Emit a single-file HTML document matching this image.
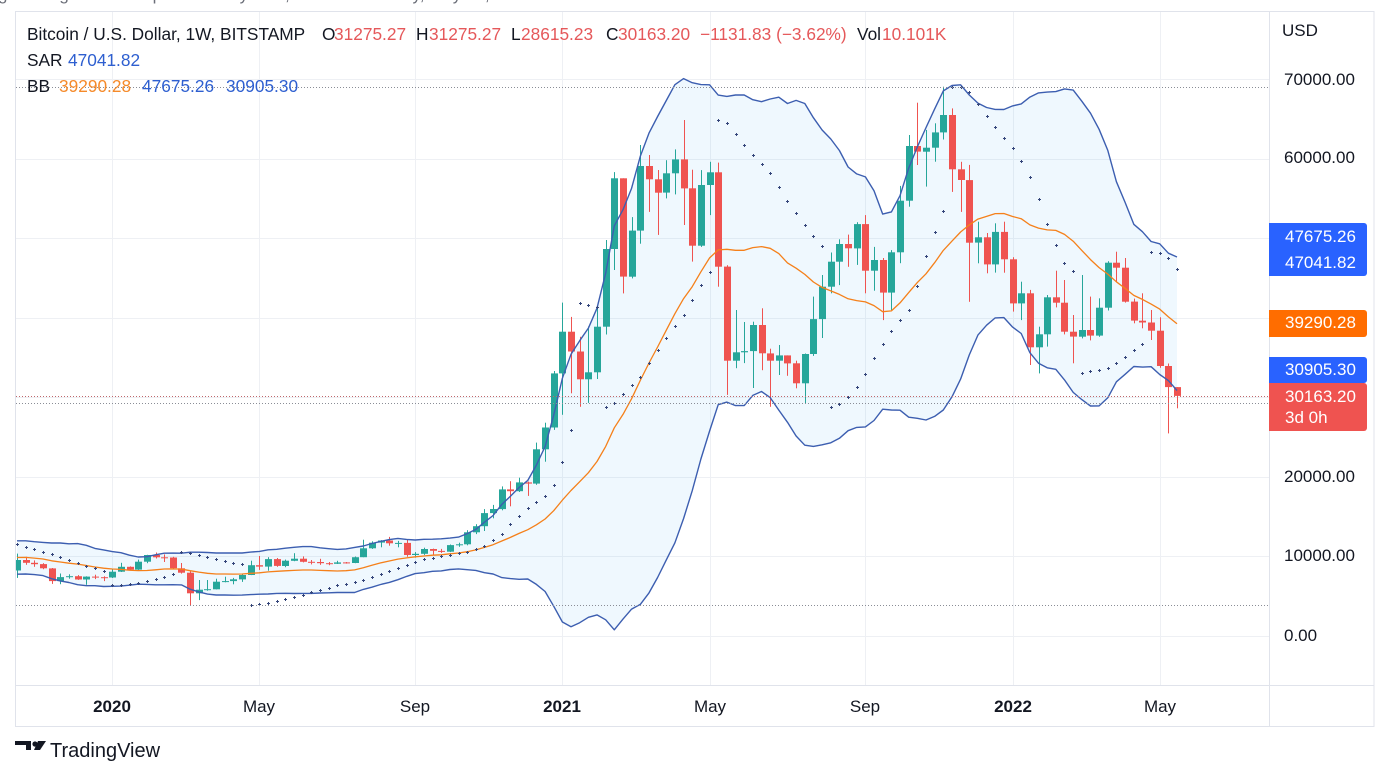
<!DOCTYPE html>
<html><head><meta charset="utf-8">
<style>
html,body{margin:0;padding:0;background:#fff;}
body{width:1389px;height:750px;overflow:hidden;position:relative;font-family:"Liberation Sans",Arial,sans-serif;}
#c{position:absolute;left:0;top:0;}
.t{position:absolute;white-space:nowrap;line-height:20px;font-size:17px;color:#131722;}
.lg{font-size:17.3px;}
.r{color:#e5585a;}
.b{color:#2e5fd0;}
.o{color:#f58a2a;}
.ax{font-size:17px;}
.tm{width:80px;text-align:center;font-size:17px;}
.yr{font-weight:bold;}
.box{position:absolute;left:1269px;width:98px;border-radius:0 3px 3px 0;}
.bt{color:#fff;font-size:17px;left:1285px;}
</style></head>
<body>
<svg id="c" width="1389" height="750" viewBox="0 0 1389 750" xmlns="http://www.w3.org/2000/svg"></svg>

<!-- clipped caption at very top -->
<div class="t" style="left:-2px;top:-15px;color:#6b6e78;font-size:17px;">g TradingView chart published by user, BTCUSD weekly, May 19, 2022 — BITSTAMP</div>

<!-- legend -->
<div class="t lg" style="left:27px;top:24px;">Bitcoin / U.S. Dollar, 1W, BITSTAMP</div>
<div class="t lg" style="left:322px;top:24px;">O</div>
<div class="t lg r" style="left:334px;top:24px;">31275.27</div>
<div class="t lg" style="left:416px;top:24px;">H</div>
<div class="t lg r" style="left:429px;top:24px;">31275.27</div>
<div class="t lg" style="left:511px;top:24px;">L</div>
<div class="t lg r" style="left:521px;top:24px;">28615.23</div>
<div class="t lg" style="left:606px;top:24px;">C</div>
<div class="t lg r" style="left:618px;top:24px;">30163.20</div>
<div class="t lg r" style="left:700px;top:24px;">−1131.83 (−3.62%)</div>
<div class="t lg" style="left:857px;top:24px;">Vol</div>
<div class="t lg r" style="left:882px;top:24px;">10.101K</div>

<div class="t lg" style="left:27px;top:50px;">SAR</div>
<div class="t lg b" style="left:68px;top:50px;">47041.82</div>

<div class="t lg" style="left:27px;top:76px;">BB</div>
<div class="t lg o" style="left:59px;top:76px;">39290.28</div>
<div class="t lg b" style="left:142px;top:76px;">47675.26</div>
<div class="t lg b" style="left:226px;top:76px;">30905.30</div>

<!-- price axis -->
<div class="t ax" style="left:1282px;top:21px;">USD</div>
<div class="t ax" style="left:1284px;top:70px;">70000.00</div>
<div class="t ax" style="left:1284px;top:148px;">60000.00</div>
<div class="t ax" style="left:1284px;top:467px;">20000.00</div>
<div class="t ax" style="left:1284px;top:546px;">10000.00</div>
<div class="t ax" style="left:1284px;top:626px;">0.00</div>

<!-- price label boxes -->
<div class="box" style="top:223px;height:53px;background:#2962ff;"></div>
<div class="box" style="top:310px;height:27px;background:#ff6d00;"></div>
<div class="box" style="top:357px;height:26px;background:#2962ff;"></div>
<div class="box" style="top:383px;height:48px;background:#ef5350;"></div>
<div class="t bt" style="top:227px;">47675.26</div>
<div class="t bt" style="top:253px;">47041.82</div>
<div class="t bt" style="top:313px;">39290.28</div>
<div class="t bt" style="top:360px;">30905.30</div>
<div class="t bt" style="top:387px;">30163.20</div>
<div class="t bt" style="top:408px;">3d 0h</div>

<!-- time axis -->
<div class="t tm yr" style="left:72px;top:697px;">2020</div>
<div class="t tm" style="left:219px;top:697px;">May</div>
<div class="t tm" style="left:375px;top:697px;">Sep</div>
<div class="t tm yr" style="left:522px;top:697px;">2021</div>
<div class="t tm" style="left:670px;top:697px;">May</div>
<div class="t tm" style="left:825px;top:697px;">Sep</div>
<div class="t tm yr" style="left:973px;top:697px;">2022</div>
<div class="t tm" style="left:1120px;top:697px;">May</div>

<!-- bottom logo -->
<div class="t" style="left:50px;top:739px;font-size:20px;line-height:24px;color:#131722;">TradingView</div>

<script>
(function(){
var pre=[[8740,8800,7450,7640],[7640,9300,7550,8980],[8980,11200,8950,10850],[10850,13880,10300,10800],[10800,12000,9600,11450],[11450,13150,10100,10200],[10200,11100,9100,10550],[10550,10650,9150,9500],[9500,11000,9400,10800],[10800,12300,10800,11350],[11350,11450,9500,10200],[10200,10950,9900,10150],[10150,10600,9350,9750],[9750,10900,9600,10400],[10400,10450,9900,10300],[10300,10350,9850,10050],[10050,10050,7800,8050],[8050,8500,7750,7880],[7880,8800,7800,8300],[8300,8400,7850,8230]];
var m=[[10350,7300,9550],[9950,8950,9200],[9500,8700,9030],[9150,8400,8500],[8550,6550,6900],[7850,6500,7400],[7750,7200,7520],[7650,7050,7100],[7500,6430,7460],[7700,7150,7390],[7500,6900,7350],[8450,7300,8080],[9200,8050,8700],[8750,8250,8350],[9600,8300,9340],[10200,9150,10180],[10500,9750,9890],[10250,9300,9860],[9950,8450,8510],[9180,7850,7960],[8150,3850,5370],[7040,4520,5820],[7040,5700,5880],[7200,5850,6830],[7450,6750,6900],[7300,6500,7120],[7800,6800,7670],[9460,7650,8900],[10050,8300,8720],[9900,8200,9660],[9800,8700,8800],[9600,8650,9460],[10400,9400,9720],[10000,9250,9330],[9550,9000,9300],[9700,8950,9150],[9300,8900,9080],[9450,9050,9250],[9300,9100,9170],[9990,9150,9900],[12100,9900,11020],[11900,10950,11730],[12050,11150,12000],[12450,11350,11650],[11950,11150,11700],[12100,9950,10180],[10550,9850,10330],[11100,10200,10930],[10990,10150,10700],[10950,10450,10600],[11500,10550,11430],[11720,11200,11520],[13300,11400,13030],[14050,12800,13800],[15950,13200,15450],[16480,14800,15960],[18800,15800,18430],[19450,16300,18200],[19900,18100,19300],[19400,17600,19150],[24300,19000,23460],[26800,21900,26200],[33300,25900,33000],[41900,27800,38240],[40100,30500,35750],[37600,28800,32260],[38900,29300,33140],[41300,32300,38870],[49770,37900,48640],[58300,46000,57520],[57500,43050,45160],[52650,44950,50950],[61700,49300,59070],[60450,53300,57400],[58560,50400,55720],[59800,55000,58150],[61150,55500,59900],[64850,51650,56260],[58600,47050,49050],[58550,48900,56680],[59600,52900,58280],[59500,43900,46420],[46600,30300,34600],[40970,33650,35650],[39460,34300,35800],[39500,31170,39080],[41180,33400,35520],[36100,28800,34600],[36570,32800,35270],[35100,32700,34270],[34600,31130,31760],[35500,29240,35440],[42650,35200,39830],[45370,37450,43900],[48200,43070,47040],[49850,44100,49260],[50450,46400,48720],[52000,46630,51770],[52900,43070,45910],[48900,43400,47250],[47500,39700,43150],[48500,40970,48220],[56560,46850,54710],[62960,53950,61580],[67020,59190,60870],[63600,56470,61370],[64430,59600,63290],[69030,62400,65480],[66300,55800,58650],[59600,53300,57300],[59200,42000,49430],[52070,46840,50100],[50650,45580,46700],[51860,45660,50780],[52070,45660,47340],[47600,40760,41800],[44530,39700,43070],[43500,34060,36280],[38870,33000,37920],[42860,36380,42570],[45910,41300,41890],[44740,37900,38240],[40340,34270,37620],[45370,37400,38460],[42650,37150,37750],[42440,37600,41260],[47100,40900,46920],[48300,44530,46290],[47500,41900,42020],[42400,39290,39630],[43070,38670,39400],[40970,37200,38370],[40050,33700,33930],[34250,25470,31275],[31275,28615,30163]];
var bars=pre.map(function(a){return {o:a[0],h:a[1],l:a[2],c:a[3]};});
var pc=pre[pre.length-1][3];
m.forEach(function(a){var o=pc;bars.push({o:o,h:Math.max(a[0],o,a[2]),l:Math.min(a[1],o,a[2]),c:a[2]});pc=a[2];});
var L=bars[bars.length-1];L.o=31275.27;L.h=31275.27;L.l=28615.23;L.c=30163.20;
var P=pre.length,n=bars.length;
function X(k){return 17+(k-P)*8.657;}
function Y(p){return 636-p*0.0079571;}
// BB
var up=[],lo=[],mid=[];
for(var k=P;k<n;k++){var s=0;for(var j=k-19;j<=k;j++)s+=bars[j].c;var mu=s/20;var v=0;for(j=k-19;j<=k;j++)v+=(bars[j].c-mu)*(bars[j].c-mu);var sd=Math.sqrt(v/20);mid.push([X(k),Y(mu)]);up.push([X(k),Y(mu+2*sd)]);lo.push([X(k),Y(mu-2*sd)]);}
// SAR (Pine-style)
var sar=new Array(n),res=0,mm=0,acc=0.02,below=true;
for(k=1;k<n;k++){
  var first=false,b=bars[k];
  if(k==1){ if(bars[1].c>bars[0].c){below=true;mm=bars[1].h;res=bars[0].l;} else {below=false;mm=bars[1].l;res=bars[0].h;} first=true; acc=0.02;}
  res=res+acc*(mm-res);
  if(below){ if(res>b.l){first=true;below=false;res=Math.max(b.h,mm);mm=b.l;acc=0.02;} }
  else { if(res<b.h){first=true;below=true;res=Math.min(b.l,mm);mm=b.h;acc=0.02;} }
  if(!first){ if(below){ if(b.h>mm){mm=b.h;acc=Math.min(acc+0.02,0.2);} } else { if(b.l<mm){mm=b.l;acc=Math.min(acc+0.02,0.2);} } }
  if(below){res=Math.min(res,bars[k-1].l); if(k>1)res=Math.min(res,bars[k-2].l);}
  else {res=Math.max(res,bars[k-1].h); if(k>1)res=Math.max(res,bars[k-2].h);}
  if(k==P){res=11520;mm=7300;acc=0.08;below=false;}
  sar[k]=res;
}
function pts(a){return a.map(function(q){return q[0].toFixed(1)+','+q[1].toFixed(1);}).join(' ');}
var h='';
h+='<defs><clipPath id="pc"><rect x="16" y="12" width="1253" height="673"/></clipPath></defs>';
// grid
var gx=[112.2,259.4,415.2,562.4,709.6,865.4,1012.6,1159.7];
gx.forEach(function(x){h+='<line x1="'+(Math.round(x)+0.5)+'" y1="12" x2="'+(Math.round(x)+0.5)+'" y2="685" stroke="#eef0f4" stroke-width="1"/>';});
for(var p=0;p<=70000;p+=10000){var yy=Math.round(Y(p))+0.5;h+='<line x1="16" y1="'+yy+'" x2="1269" y2="'+yy+'" stroke="#eef0f4" stroke-width="1"/>';}
h+='<g clip-path="url(#pc)">';
// BB fill
h+='<polygon points="'+pts(up)+' '+pts(lo.slice().reverse())+'" fill="rgba(33,150,243,0.07)"/>';
// candles
for(k=P;k<n;k++){var bb=bars[k],cx=Math.round(X(k)),col=bb.c>=bb.o?'#26a69a':'#ef5350';
 var t=Y(Math.max(bb.o,bb.c)),bt=Y(Math.min(bb.o,bb.c)),hh=Math.max(1,bt-t);
 h+='<rect x="'+cx+'" y="'+Y(bb.h).toFixed(1)+'" width="1" height="'+(Y(bb.l)-Y(bb.h)).toFixed(1)+'" fill="'+col+'"/>';
 h+='<rect x="'+(cx-3)+'" y="'+t.toFixed(1)+'" width="7" height="'+hh.toFixed(1)+'" fill="'+col+'"/>';}
// BB lines
h+='<polyline points="'+pts(up)+'" fill="none" stroke="#3c5eb0" stroke-width="1.4" stroke-linejoin="round"/>';
h+='<polyline points="'+pts(lo)+'" fill="none" stroke="#3c5eb0" stroke-width="1.4" stroke-linejoin="round"/>';
h+='<polyline points="'+pts(mid)+'" fill="none" stroke="#f5801a" stroke-width="1.3" stroke-linejoin="round"/>';
// SAR
for(k=P;k<n;k++){var sx=Math.round(X(k))+0.5,sy=Math.round(Y(sar[k]))+0.5;
 h+='<path d="M'+(sx-1.5)+' '+sy+'H'+(sx+1.5)+'M'+sx+' '+(sy-1.5)+'V'+(sy+1.5)+'" stroke="#34457a" stroke-width="1"/>';}
h+='</g>';
// dotted lines
function dl(y,c){h+='<line x1="16" y1="'+y+'" x2="1269" y2="'+y+'" stroke="'+c+'" stroke-width="1" stroke-dasharray="1 2"/>';}
dl(87.5,'#8a8d96');dl(605.5,'#8a8d96');dl(396.5,'#c0676a');dl(403.5,'#8a8d96');
// frame and separators
h+='<rect x="15.5" y="11.5" width="1358.5" height="715" fill="none" stroke="#e0e3eb" stroke-width="1"/>';
h+='<line x1="1269.5" y1="11.5" x2="1269.5" y2="726.5" stroke="#e0e3eb" stroke-width="1"/>';
h+='<line x1="15.5" y1="685.5" x2="1374" y2="685.5" stroke="#e0e3eb" stroke-width="1"/>';
// logo mark
h+='<path d="M15 741H31V750H26V745H15Z" fill="#131722"/><circle cx="35" cy="744" r="2.6" fill="#131722"/><path d="M38 741H46L40 750H34Z" fill="#131722"/>';
document.getElementById('c').innerHTML=h;
})();
</script>
</body></html>
